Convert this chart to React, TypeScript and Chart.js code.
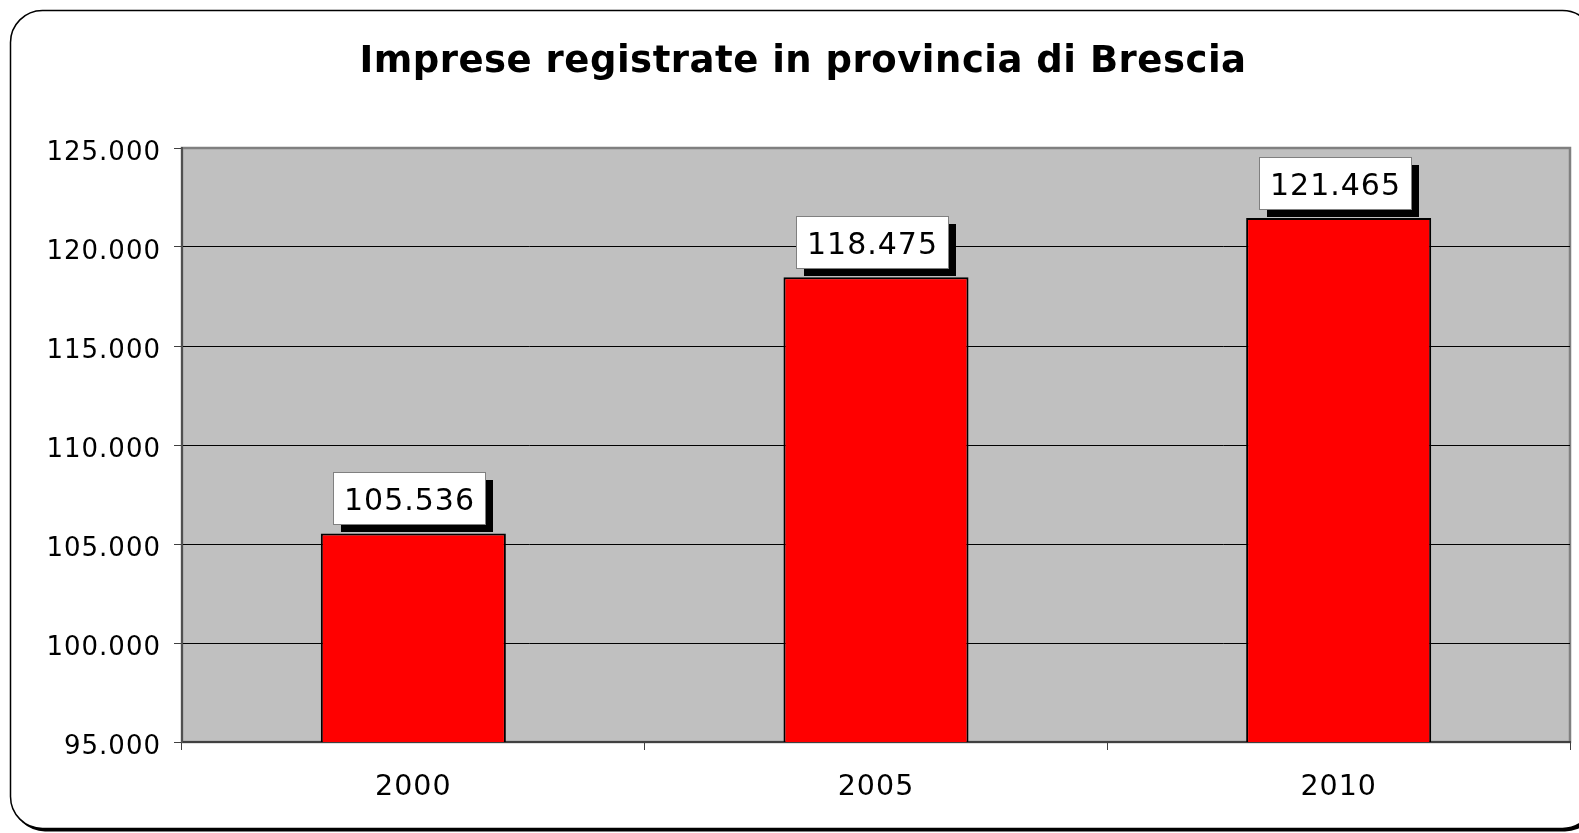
import React, { useEffect, useRef } from "react";
import { Chart, registerables } from "chart.js";

Chart.register(...registerables);

const categories = ["2000", "2005", "2010"];
const values = [105536, 118475, 121465];
const yMin = 95000;
const yMax = 125000;
const yStep = 5000;
const titleText = "Imprese registrate in provincia di Brescia";

const FONT = "'DejaVu Sans', Verdana, sans-serif";

const fmt = (n: number) => String(Math.round(n)).replace(/\B(?=(\d{3})+(?!\d))/g, ".");

function roundRect(ctx: CanvasRenderingContext2D, x: number, y: number, w: number, h: number, r: number) {
  ctx.beginPath();
  ctx.moveTo(x + r, y);
  ctx.lineTo(x + w - r, y);
  ctx.arcTo(x + w, y, x + w, y + r, r);
  ctx.lineTo(x + w, y + h - r);
  ctx.arcTo(x + w, y + h, x + w - r, y + h, r);
  ctx.lineTo(x + r, y + h);
  ctx.arcTo(x, y + h, x, y + h - r, r);
  ctx.lineTo(x, y + r);
  ctx.arcTo(x, y, x + r, y, r);
  ctx.closePath();
}

const spacingPlugin = {
  id: "spacingPlugin",
  beforeUpdate(chart: any) {
    (chart.ctx as any).letterSpacing = "1px";
  },
  beforeDraw(chart: any) {
    (chart.ctx as any).letterSpacing = "1px";
  },
};

const backgroundPlugin = {
  id: "bgPlugin",
  beforeDraw(chart: any) {
    const ctx = chart.ctx as CanvasRenderingContext2D;
    const { chartArea } = chart;
    ctx.save();
    ctx.fillStyle = "#ffffff";
    ctx.fillRect(0, 0, chart.width, chart.height);
    // outer frame with shadow
    ctx.fillStyle = "#000000";
    roundRect(ctx, 13, 13.5, 1584, 818, 32);
    ctx.fill();
    ctx.fillStyle = "#ffffff";
    roundRect(ctx, 10.5, 10.5, 1584, 818, 32);
    ctx.fill();
    ctx.strokeStyle = "#000000";
    ctx.lineWidth = 1.5;
    ctx.stroke();
    // plot area
    ctx.fillStyle = "#C0C0C0";
    ctx.fillRect(chartArea.left, chartArea.top, chartArea.right - chartArea.left, chartArea.bottom - chartArea.top);
    ctx.strokeStyle = "#808080";
    ctx.lineWidth = 2.5;
    ctx.strokeRect(chartArea.left, chartArea.top, chartArea.right - chartArea.left, chartArea.bottom - chartArea.top);
    // title
    (ctx as any).letterSpacing = "0.5px";
    ctx.fillStyle = "#000000";
    ctx.font = `bold 37px ${FONT}`;
    ctx.textAlign = "center";
    ctx.textBaseline = "alphabetic";
    ctx.fillText(titleText, 803, 71.5);
    ctx.restore();
  },
};

// y-axis tick labels, positioned from the y scale's own ticks
const yLabelPlugin = {
  id: "yLabelPlugin",
  afterDraw(chart: any) {
    const ctx = chart.ctx as CanvasRenderingContext2D;
    const scale = chart.scales.y;
    ctx.save();
    (ctx as any).letterSpacing = "1px";
    ctx.font = `26px ${FONT}`;
    ctx.fillStyle = "#000000";
    ctx.textAlign = "right";
    ctx.textBaseline = "alphabetic";
    scale.ticks.forEach((t: any) => {
      const py = scale.getPixelForValue(t.value);
      ctx.fillText(fmt(t.value), scale.right - 21, py + 12);
    });
    ctx.restore();
  },
};

const labelPlugin = {
  id: "labelPlugin",
  afterDatasetsDraw(chart: any) {
    const ctx = chart.ctx as CanvasRenderingContext2D;
    const meta = chart.getDatasetMeta(0);
    const data = chart.data.datasets[0].data as number[];
    ctx.save();
    (ctx as any).letterSpacing = "1px";
    ctx.font = `30px ${FONT}`;
    meta.data.forEach((bar: any, i: number) => {
      const text = fmt(data[i]);
      const tw = ctx.measureText(text).width;
      const w = Math.round(tw + 21);
      const h = 52;
      const cx = bar.x - 4;
      const bottom = bar.y - 9;
      const x = Math.round(cx - w / 2);
      const y = Math.round(bottom - h);
      ctx.fillStyle = "#000000";
      ctx.fillRect(x + 8, y + 8, w, h);
      ctx.fillStyle = "#ffffff";
      ctx.fillRect(x, y, w, h);
      ctx.strokeStyle = "#808080";
      ctx.lineWidth = 1;
      ctx.strokeRect(x + 0.5, y + 0.5, w, h);
      ctx.fillStyle = "#000000";
      ctx.textAlign = "center";
      ctx.textBaseline = "alphabetic";
      ctx.fillText(text, x + w / 2 + 0.5, y + h / 2 + 12);
    });
    ctx.restore();
  },
};

export default function App() {
  const ref = useRef<HTMLCanvasElement | null>(null);
  useEffect(() => {
    if (!ref.current) return;
    const chart = new Chart(ref.current, {
      type: "bar",
      data: {
        labels: categories,
        datasets: [
          {
            data: values,
            backgroundColor: "#FF0000",
            borderColor: "#000000",
            borderWidth: 2,
            barPercentage: 0.4,
            categoryPercentage: 1,
          },
        ],
      },
      options: {
        responsive: false,
        animation: false,
        layout: { padding: { left: 0, right: 9, top: 148, bottom: 0 } },
        plugins: {
          legend: { display: false },
          tooltip: { enabled: false },
          title: { display: false },
        },
        scales: {
          x: {
            afterFit(scale: any) {
              scale.height = 91;
            },
            grid: {
              offset: true,
              drawOnChartArea: false,
              drawTicks: true,
              tickLength: 8,
              color: "#404040",
            },
            border: { color: "#404040", width: 2 },
            ticks: {
              color: "#000000",
              padding: 20,
              font: { family: FONT, size: 28.5 },
            },
          },
          y: {
            min: yMin,
            max: yMax,
            afterFit(scale: any) {
              scale.width = 182;
            },
            grid: {
              color: (c: any) => (c.tick && c.tick.value === yMax ? "#808080" : "#000000"),
              lineWidth: 1,
              tickLength: 8,
              tickColor: "#404040",
            },
            border: { color: "#505050", width: 2 },
            ticks: {
              display: false,
              stepSize: yStep,
              callback: (v: any) => fmt(Number(v)),
            },
          },
        },
      },
      plugins: [spacingPlugin, backgroundPlugin, labelPlugin, yLabelPlugin],
    });
    return () => chart.destroy();
  }, []);
  return (
    <div style={{ position: "absolute", left: 0, top: 0, width: 1579, height: 833 }}>
      <canvas ref={ref} width={1579} height={833} style={{ display: "block" }} />
    </div>
  );
}
